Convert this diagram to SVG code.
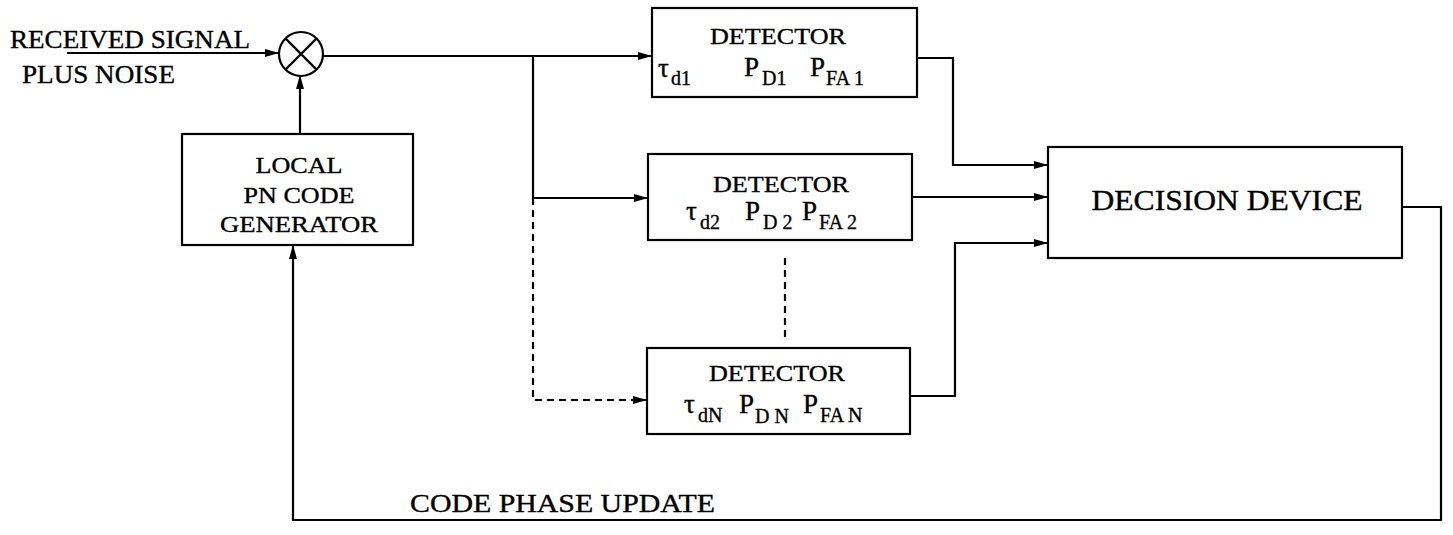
<svg xmlns="http://www.w3.org/2000/svg" width="1453" height="535" viewBox="0 0 1453 535">
<style>
.box{fill:#fff;stroke:#000;stroke-width:2.2}
.ln{fill:none;stroke:#000;stroke-width:2.2}
.dash{fill:none;stroke:#000;stroke-width:2.2;stroke-dasharray:7 5}
text{font-family:"Liberation Serif","Times New Roman",serif;fill:#000;stroke:#000;stroke-width:0.35}
.lbl{font-size:25px}
.det{font-size:24px;text-anchor:middle}
.par{font-size:27px}
.sub{font-size:20px}
</style>
<defs>
<marker id="ah" markerWidth="14" markerHeight="8" refX="13" refY="4" orient="auto" markerUnits="userSpaceOnUse">
<path d="M0,0 L14,4 L0,8 Z" fill="#000"/>
</marker>
</defs>
<rect width="1453" height="535" fill="#fff"/>

<g id="connectors">
<path class="ln" d="M67,53 L278,53" marker-end="url(#ah)"/>
<path class="ln" d="M300,134 L300,76" marker-end="url(#ah)"/>
<path class="ln" d="M323,56 L651,56" marker-end="url(#ah)"/>
<path class="ln" d="M533,56 L533,198 L647,198" marker-end="url(#ah)"/>
<path class="dash" d="M533,198 L533,400 L646,400" marker-end="url(#ah)"/>
<path class="dash" d="M785,258 L785,340"/>
<path class="ln" d="M917,58 L953,58 L953,165 L1047,165" marker-end="url(#ah)"/>
<path class="ln" d="M912,197 L1047,197" marker-end="url(#ah)"/>
<path class="ln" d="M910,396 L955,396 L955,243 L1047,243" marker-end="url(#ah)"/>
<path class="ln" d="M1402,207 L1441,207 L1441,520 L293,520 L293,246" marker-end="url(#ah)"/>
</g>

<g id="input-label">
<text class="lbl" x="10" y="48" textLength="240" lengthAdjust="spacingAndGlyphs">RECEIVED SIGNAL</text>
<text class="lbl" x="22" y="83" textLength="153" lengthAdjust="spacingAndGlyphs">PLUS NOISE</text>
</g>

<g id="mixer">
<circle cx="301" cy="54" r="22" class="box"/>
<path class="ln" d="M285.4,38.4 L316.6,69.6 M316.6,38.4 L285.4,69.6"/>
</g>

<g id="local-pn">
<rect class="box" x="182" y="134" width="231" height="111"/>
<text class="det" x="299" y="173" font-size="25" textLength="87" lengthAdjust="spacingAndGlyphs">LOCAL</text>
<text class="det" x="299" y="203" font-size="25" textLength="111" lengthAdjust="spacingAndGlyphs">PN CODE</text>
<text class="det" x="299" y="232" font-size="25" textLength="158" lengthAdjust="spacingAndGlyphs">GENERATOR</text>
</g>

<g id="detector1">
<rect class="box" x="652" y="8" width="265" height="89"/>
<text class="det" x="778" y="44" textLength="136" lengthAdjust="spacingAndGlyphs">DETECTOR</text>
<text class="par" x="658" y="77">τ</text><text class="sub" x="671" y="85">d1</text>
<text class="par" x="744" y="76">P</text><text class="sub" x="762" y="85">D1</text>
<text class="par" x="810" y="76">P</text><text class="sub" x="826" y="85">FA 1</text>
</g>

<g id="detector2">
<rect class="box" x="648" y="154" width="264" height="86"/>
<text class="det" x="781" y="192" textLength="136" lengthAdjust="spacingAndGlyphs">DETECTOR</text>
<text class="par" x="686" y="220">τ</text><text class="sub" x="700" y="229">d2</text>
<text class="par" x="745" y="220">P</text><text class="sub" x="763" y="229">D 2</text>
<text class="par" x="802" y="220">P</text><text class="sub" x="819" y="229">FA 2</text>
</g>

<g id="detectorN">
<rect class="box" x="647" y="348" width="263" height="86"/>
<text class="det" x="777" y="381" textLength="136" lengthAdjust="spacingAndGlyphs">DETECTOR</text>
<text class="par" x="684" y="413">τ</text><text class="sub" x="698" y="422">dN</text>
<text class="par" x="739" y="413">P</text><text class="sub" x="755" y="423">D N</text>
<text class="par" x="803" y="413">P</text><text class="sub" x="820" y="422">FA N</text>
</g>

<g id="decision">
<rect class="box" x="1048" y="147" width="354" height="111"/>
<text x="1227" y="210" font-size="29" text-anchor="middle" textLength="271" lengthAdjust="spacingAndGlyphs">DECISION DEVICE</text>
</g>

<g id="feedback-label">
<text class="lbl" x="410" y="512" font-size="23" textLength="305" lengthAdjust="spacingAndGlyphs">CODE PHASE UPDATE</text>
</g>
</svg>
